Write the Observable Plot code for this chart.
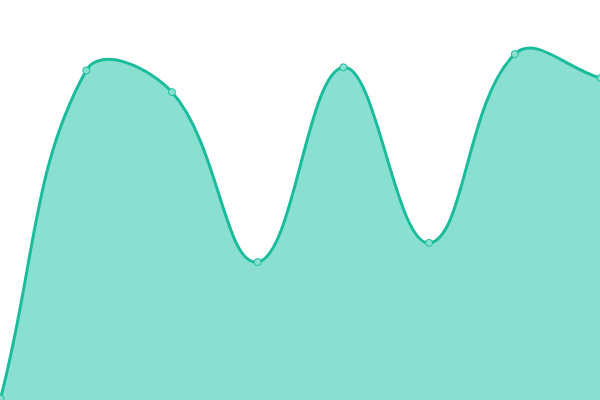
<!DOCTYPE html>
<html>
<head>
<meta charset="utf-8">
<script src="https://cdn.jsdelivr.net/npm/d3@7"></script>
<script src="https://cdn.jsdelivr.net/npm/@observablehq/plot@0.6"></script>
<style>
  html, body { margin: 0; padding: 0; background: #fff; overflow: hidden; }
  svg { overflow: hidden; }
</style>
</head>
<body>
<div id="chart"></div>
<script>
const xs = [0, 1, 2, 3, 4, 5, 6, 7];
const values = [0.5, 82.5, 77.1, 34.6, 83.3, 39.4, 86.6, 80.6];
const data = xs.map((x, i) => ({x, y: values[i]}));

// Distance-weighted tension spline (curve factory for d3/Plot)
function tensionCurve(t) {
  return function (context) {
    return {
      areaStart() { this._line = 0; },
      areaEnd() { this._line = NaN; },
      lineStart() { this._pts = []; },
      point(x, y) { this._pts.push([+x, +y]); },
      lineEnd() {
        const p = this._pts, n = p.length;
        if (n) {
          if (this._line) context.lineTo(p[0][0], p[0][1]);
          else context.moveTo(p[0][0], p[0][1]);
          const cps = p.map((c, i) => {
            const prev = p[Math.max(i - 1, 0)], next = p[Math.min(i + 1, n - 1)];
            const d01 = Math.hypot(c[0] - prev[0], c[1] - prev[1]);
            const d12 = Math.hypot(next[0] - c[0], next[1] - c[1]);
            let s01 = d01 / (d01 + d12), s12 = d12 / (d01 + d12);
            if (isNaN(s01)) s01 = 0;
            if (isNaN(s12)) s12 = 0;
            const fa = t * s01, fb = t * s12;
            return {
              prev: [c[0] - fa * (next[0] - prev[0]), c[1] - fa * (next[1] - prev[1])],
              next: [c[0] + fb * (next[0] - prev[0]), c[1] + fb * (next[1] - prev[1])]
            };
          });
          for (let i = 1; i < n; i++) {
            const a = cps[i - 1].next, b = cps[i].prev;
            context.bezierCurveTo(a[0], a[1], b[0], b[1], p[i][0], p[i][1]);
          }
        }
        if (this._line || (this._line !== 0 && n === 1)) context.closePath();
        this._line = 1 - this._line;
      }
    };
  };
}
const curve = tensionCurve(0.4);

const chart = Plot.plot({
  width: 600,
  height: 400,
  margin: 0,
  x: {axis: null, domain: [0, 7]},
  y: {axis: null, domain: [0, 100]},
  marks: [
    Plot.areaY(data, {x: "x", y: "y", curve, fill: "#8ae0d0"}),
    Plot.lineY(data, {x: "x", y: "y", curve, stroke: "#1abc9c", strokeWidth: 3}),
    Plot.dot(data, {x: "x", y: "y", r: 3.5, fill: "#8ae0d0", stroke: "#1abc9c", strokeWidth: 1})
  ]
});
document.getElementById("chart").appendChild(chart);
</script>
</body>
</html>
